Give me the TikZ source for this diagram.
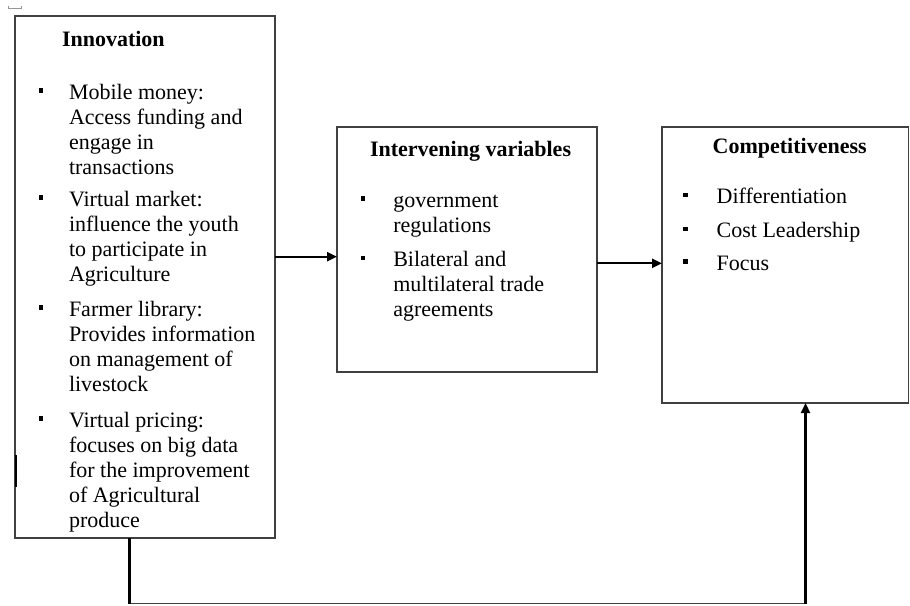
\documentclass[tikz,border=0pt]{standalone}
\usepackage{fontspec}
\setmainfont{Liberation Serif}
\usetikzlibrary{arrows.meta}
\definecolor{boxgray}{RGB}{64,64,64}
\definecolor{markgray}{RGB}{150,150,150}
\newcommand{\mylines}[1]{\begin{tabular}[t]{@{}l@{}}#1\end{tabular}}
\begin{document}
\begin{tikzpicture}[x=1pt,y=-1pt,
  box/.style={draw=boxgray,line width=1.3pt,inner sep=0pt,outer sep=0pt,anchor=north west},
  txt/.style={anchor=base west,inner sep=0pt,outer sep=0pt,font=\fontsize{22}{25}\selectfont},
  ttl/.style={anchor=base west,inner sep=0pt,outer sep=0pt,font=\fontsize{22}{25}\selectfont\bfseries},
  blt/.style={fill=black,inner sep=0pt,outer sep=0pt,minimum size=4.5pt,anchor=center},
  arr/.style={line width=2.2pt,-{Triangle[length=10pt,width=9pt]}},
  link/.style={line width=2.2pt,black},
  base/.style={line width=1.2pt,boxgray}]
\useasboundingbox (0,0) rectangle (910,605);

% small mark top-left
\draw[markgray,line width=0.8pt] (8,5.5) -- (8,8.5) -- (21,8.5) -- (21,5.5);

% boxes
\node[box,minimum width=260pt,minimum height=522pt] (innov) at (15,16) {};
\node[box,minimum width=260pt,minimum height=245pt] (interv) at (337,127) {};
\node[box,minimum width=246.5pt,minimum height=276pt] (comp) at (662,127) {};

% thicker mark on left edge
\draw[line width=1.8pt,black] (16,455) -- (16,487);

% Innovation
\node[ttl] (t1) at (62,46) {Innovation};
\node[blt] (b11) at (40.8,90.5) {};
\node[txt] (i11) at (69,99) {\mylines{Mobile money:\\Access funding and\\engage in\\transactions}};
\node[blt] (b12) at (40.8,197.5) {};
\node[txt] (i12) at (69,206) {\mylines{Virtual market:\\influence the youth\\to participate in\\Agriculture}};
\node[blt] (b13) at (40.8,307.5) {};
\node[txt] (i13) at (69,316) {\mylines{Farmer library:\\Provides information\\on management of\\livestock}};
\node[blt] (b14) at (40.8,418.5) {};
\node[txt] (i14) at (69,427) {\mylines{Virtual pricing:\\focuses on big data\\for the improvement\\of Agricultural\\produce}};

% Intervening variables
\node[ttl] (t2) at (370,156.7) {Intervening variables};
\node[blt] (b21) at (362.8,198.5) {};
\node[txt] (i21) at (393.3,207) {\mylines{government\\regulations}};
\node[blt] (b22) at (362.8,258.2) {};
\node[txt] (i22) at (393.3,266.7) {\mylines{Bilateral and\\multilateral trade\\agreements}};

% Competitiveness
\node[ttl] (t3) at (712.7,153.3) {Competitiveness};
\node[blt] (b31) at (685.3,194.8) {};
\node[txt] (i31) at (716.7,203.3) {Differentiation};
\node[blt] (b32) at (685.3,228.8) {};
\node[txt] (i32) at (716.7,237.3) {Cost Leadership};
\node[blt] (b33) at (685.3,261.5) {};
\node[txt] (i33) at (716.7,270) {Focus};

% connectors
\coordinate (y1) at (0,256.7);
\coordinate (y2) at (0,263.3);
\coordinate (xl) at (129.5,0);
\coordinate (xr) at (805.5,0);
\coordinate (bl) at (129.5,603.5);
\coordinate (br) at (805.5,603.5);
\draw[arr] (innov.east |- y1) -- (interv.west |- y1);
\draw[arr] (interv.east |- y2) -- (comp.west |- y2);
\draw[base] (bl) -- (br);
\draw[link] (innov.south -| xl) -- (bl);
\draw[arr] (br) -- (comp.south -| xr);
\end{tikzpicture}
\end{document}
